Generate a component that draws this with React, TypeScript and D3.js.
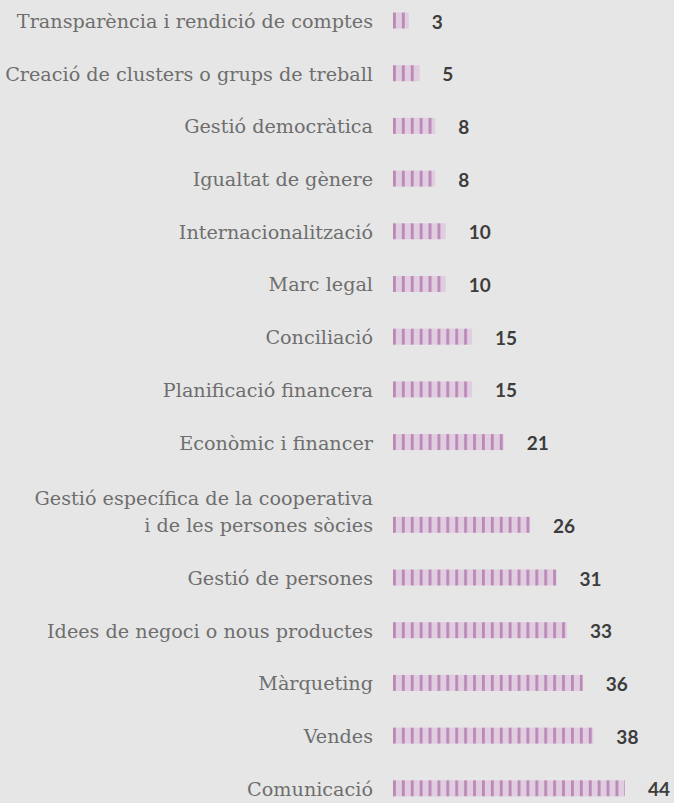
import React from 'react';
import * as d3 from 'd3';

const labels: string[][] = [
  ["Transparència i rendició de comptes"],
  ["Creació de clusters o grups de treball"],
  ["Gestió democràtica"],
  ["Igualtat de gènere"],
  ["Internacionalització"],
  ["Marc legal"],
  ["Conciliació"],
  ["Planificació financera"],
  ["Econòmic i financer"],
  ["Gestió específica de la cooperativa", "i de les persones sòcies"],
  ["Gestió de persones"],
  ["Idees de negoci o nous productes"],
  ["Màrqueting"],
  ["Vendes"],
  ["Comunicació"],
];
const values: number[] = [3, 5, 8, 8, 10, 10, 15, 15, 21, 26, 31, 33, 36, 38, 44];

const W = 674;
const H = 803;

export default function App() {
  // a label with extra lines pushes its own bar (and the rest) down
  let extra = 0;
  const slots = labels.map((l, i) => {
    extra += (l.length - 1) * 0.57;
    return i + extra;
  });
  const lastSlot = slots[slots.length - 1];

  const y = d3.scaleLinear().domain([0, lastSlot]).range([20.5, 788.3]);
  const x = d3.scaleLinear().domain([0, 44]).range([393, 625]);
  const barH = 16;
  const lineH = 27;

  return (
    <svg width={W} height={H} style={{position: 'absolute', left: 0, top: 0, background: '#e6e6e6'}}>
      <defs>
        <pattern id="stripes" patternUnits="userSpaceOnUse" x={x(0)} y={0} width={8.9} height={H}>
          <rect width={8.9} height={H} fill="#e0cde0" />
          <rect width={2.8} height={H} fill="#bb88b8" />
        </pattern>
      </defs>
      <rect width={W} height={H} fill="#e6e6e6" />
      {values.map((v, i) => {
        const cy = y(slots[i]);
        const lines = labels[i];
        return (
          <g key={i}>
            {lines.map((t, j) => (
              <text
                key={j}
                x={373}
                y={cy + 7.5 - (lines.length - 1 - j) * lineH}
                textAnchor="end"
                fontFamily="'DejaVu Serif', serif"
                fontSize={19.2}
                fill="#6e6e6e"
              >{t}</text>
            ))}
            <rect x={x(0)} y={cy - barH / 2} width={x(v) - x(0)} height={barH} fill="url(#stripes)" />
            <text
              x={x(v) + 23}
              y={cy + 8}
              fontFamily="Lato, 'Open Sans', sans-serif"
              fontWeight="bold"
              fontSize={19}
              fill="#3d3d3d"
            >{v}</text>
          </g>
        );
      })}
    </svg>
  );
}
